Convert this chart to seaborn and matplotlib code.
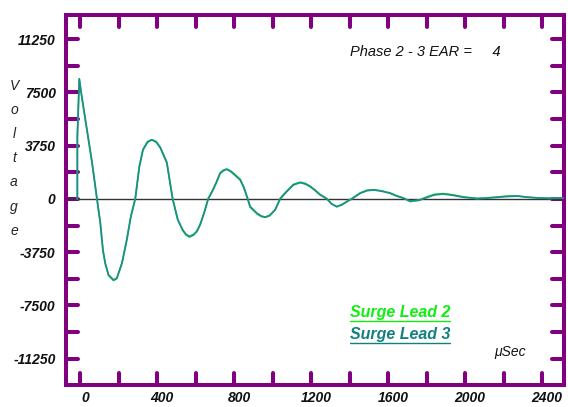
import numpy as np
import pandas as pd
import matplotlib
matplotlib.use("Agg")
import matplotlib.pyplot as plt
import matplotlib.transforms as mtransforms
from matplotlib.lines import Line2D
from matplotlib.markers import MarkerStyle
import seaborn as sns

# ---- data ----
time_us = [-15, -15, -5, 5, 30, 60, 87, 104, 118, 130, 147, 173, 190, 217, 242, 263, 286,
           307, 326, 350, 372, 395, 416, 450, 480, 507, 533, 550, 568, 590, 606, 623,
           645, 665, 685, 706, 727, 745, 762, 785, 810, 831, 850, 870, 883, 918, 940,
           961, 985, 1013, 1039, 1073, 1108, 1143, 1170, 1195, 1220, 1247, 1282, 1305,
           1333, 1360, 1385, 1411, 1455, 1490, 1524, 1565, 1610, 1645, 1680, 1714, 1760,
           1800, 1840, 1886, 1940, 1990, 2062, 2120, 2170, 2220, 2270, 2320, 2380, 2440,
           2514]
lead3_v = [0, 4370, 8460, 7470, 5300, 2700, 0, -1650, -3600, -4530, -5360, -5710, -5590,
           -4530, -2890, -1250, 0, 2250, 3450, 4000, 4160, 4000, 3600, 2540, 0, -1480, -2190,
           -2500, -2650, -2500, -2300, -1830, -950, 0, 500, 1100, 1800, 2000, 2090, 1900,
           1600, 1340, 800, 0, -540, -1010, -1200, -1290, -1150, -775, 0, 515, 990, 1150,
           1050, 870, 600, 280, 0, -350, -540, -400, -200, 0, 400, 580, 635, 550, 400,
           200, 50, -150, -100, 100, 280, 350, 250, 120, 30, 60, 120, 170, 200, 130, 60,
           50, 60]
lead2_v = [0, 4370, 8460, 7470, 5250, 2650, 0, -1700, -3650, -4580, -5400, -5760, -5620,
           -4480, -2850, -1200, 50, 2300, 3500, 4050, 4180, 4050, 3650, 2600, 50, -1450, -2250,
           -2550, -2700, -2550, -2250, -1780, -900, 50, 550, 1150, 1850, 2050, 2100, 1950,
           1650, 1400, 850, 50, -600, -1050, -1250, -1300, -1200, -750, 50, 560, 1030, 1180,
           1100, 900, 640, 320, 20, -330, -560, -430, -170, 30, 430, 620, 660, 570, 430,
           230, 60, -200, -80, 140, 330, 380, 290, 150, 20, 90, 140, 210, 220, 110, 80,
           30, 90]

x_ticks = list(range(0, 2401, 200))
x_labels = [str(v) if v % 400 == 0 else "" for v in x_ticks]
y_ticks = [-11250, -9375, -7500, -5625, -3750, -1875, 0, 1875, 3750, 5625, 7500, 9375, 11250]
y_labels = [str(v) if v % 3750 == 0 else "" for v in y_ticks]

series_names = ["Surge Lead 2", "Surge Lead 3"]
series_colors = ["#22ee22", "#1f8c8c"]
label_colors = ["#11ee11", "#138080"]

df2 = pd.DataFrame({"t": time_us, "v": lead2_v})
df3 = pd.DataFrame({"t": time_us, "v": lead3_v})

# ---- figure ----
sns.set_style("white")
plt.rcParams["font.family"] = ["Liberation Sans", "DejaVu Sans"]

W, H = 568, 407
fig = plt.figure(figsize=(W / 100, H / 100), dpi=100)
L, R, T, B = 66, 564, 14.5, 385
ax = fig.add_axes([L / W, 1 - B / H, (R - L) / W, (B - T) / H])

ax.axhline(0, color="#333333", lw=1.0, zorder=1)
sns.lineplot(data=df2, x="t", y="v", color=series_colors[0], estimator=None, sort=False,
             lw=1.1, ax=ax, zorder=2)
sns.lineplot(data=df3, x="t", y="v", color=series_colors[1], estimator=None, sort=False,
             lw=1.3, ax=ax, zorder=3)

ax.set_xlim(-74, 2514)
ax.set_ylim(-13110, 12990)

purple = "#800080"
for s in ax.spines.values():
    s.set_color(purple)
    s.set_linewidth(2.9)
    s.set_visible(True)

ax.set_xticks(x_ticks)
ax.set_xticklabels(x_labels)
ax.set_yticks(y_ticks)
ax.set_yticklabels(y_labels)
ax.tick_params(axis="both", which="major", direction="in", length=8.5, width=2.9,
               color=purple, top=True, right=True, bottom=True, left=True,
               labelsize=10)
ax.tick_params(axis="x", pad=4)
ax.tick_params(axis="y", pad=7.5)
for lab in ax.get_xticklabels() + ax.get_yticklabels():
    lab.set_fontweight("bold")
    lab.set_fontstyle("italic")
    lab.set_color("#111111")
off = mtransforms.ScaledTranslation(5 / 100, 0, fig.dpi_scale_trans)
for lab in ax.get_xticklabels():
    lab.set_transform(lab.get_transform() + off)
for t in ax.xaxis.get_major_ticks() + ax.yaxis.get_major_ticks():
    for tl in (t.tick1line, t.tick2line):
        tl.set_marker(MarkerStyle(tl.get_marker(), capstyle="round"))

ax.set_xlabel("")
ax.set_ylabel("")

def fx(px):
    return px / W

def fy(py):
    return 1 - py / H

# vertical stacked y-axis title
fig.text(fx(14), fy(79), "V\no\nl\nt\na\ng\ne", ha="center", va="top", fontsize=10,
         fontstyle="italic", color="#222222", linespacing=1.92)

fig.text(fx(350), fy(52.5), "Phase 2 - 3 EAR =     4", ha="left", va="center",
         fontsize=10.5, fontstyle="italic", color="#111111")
fig.text(fx(510), fy(352), "\u03bcSec", ha="center", va="center", fontsize=10,
         fontstyle="italic", color="#111111")

leg_texts = []
for name, col, ypx in zip(series_names, label_colors, [312.5, 334.5]):
    txt = fig.text(fx(350), fy(ypx), name, ha="left", va="center", fontsize=11.5,
                   fontweight="bold", fontstyle="italic", color=col)
    leg_texts.append(txt)

fig.canvas.draw()
renderer = fig.canvas.get_renderer()
for txt in leg_texts:
    bb = txt.get_window_extent(renderer)
    yline = bb.y0 - 1
    fig.add_artist(Line2D([bb.x0 / W, bb.x1 / W], [yline / H, yline / H],
                          transform=fig.transFigure, color=txt.get_color(), lw=1.0))

fig.savefig("out.png", dpi=100)
